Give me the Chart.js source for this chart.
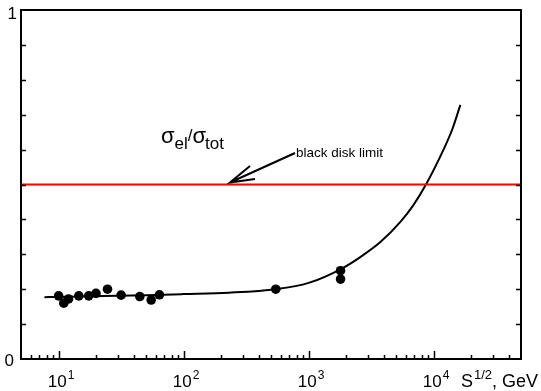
<!DOCTYPE html>
<html>
<head>
<meta charset="utf-8">
<script src="https://cdn.jsdelivr.net/npm/chart.js@4"></script>
<style>
  html, body { margin: 0; padding: 0; background: #fff; }
  canvas { display: block; }
</style>
</head>
<body>
<canvas id="ratioChart" width="541" height="391"></canvas>
<script>
// measured points: sqrt(s) in GeV and sigma_el / sigma_tot
const dataS     = [10, 11, 12, 14.5, 17.4, 19.9, 24.6, 31.6, 44.6, 55, 64, 546, 1800, 1800];
const dataRatio = [0.181, 0.160, 0.172, 0.181, 0.181, 0.188, 0.200, 0.183, 0.179, 0.169, 0.184, 0.200, 0.253, 0.229];

// model curve
const curveS     = [7.7, 10, 20, 50, 100, 230, 546, 1000, 1860, 2590, 3750, 5420, 6890, 8750, 11970, 14130, 16370];
const curveRatio = [0.177, 0.178, 0.180, 0.183, 0.186, 0.190, 0.200, 0.218, 0.260, 0.292, 0.335, 0.393, 0.441, 0.502, 0.599, 0.659, 0.728];

const blackDisk = 0.5;

const xMin = 5, xMax = 50000;
const xMajor = [10, 100, 1000, 10000];
const xMinor = [6, 7, 8, 9, 20, 30, 40, 50, 60, 70, 80, 90, 200, 300, 400, 500, 600, 700, 800, 900,
                2000, 3000, 4000, 5000, 6000, 7000, 8000, 9000, 20000, 30000, 40000];
const yTicks = [0.1, 0.2, 0.3, 0.4, 0.5, 0.6, 0.7, 0.8, 0.9];

const FONT = '"Liberation Sans", Arial, Helvetica, sans-serif';

const frameAndLabels = {
    id: 'frameAndLabels',
    afterDraw(chart) {
        const ctx = chart.ctx;
        const a = chart.chartArea;
        const xs = chart.scales.x, ys = chart.scales.y;
        ctx.save();
        ctx.strokeStyle = '#000';
        ctx.fillStyle = '#000';

        // box
        ctx.lineWidth = 2;
        ctx.strokeRect(a.left, a.top, a.right - a.left, a.bottom - a.top);

        // y ticks, left and right, inward
        ctx.lineWidth = 1.5;
        ctx.beginPath();
        yTicks.forEach(v => {
            const py = Math.round(ys.getPixelForValue(v)) + 0.5;
            ctx.moveTo(a.left, py); ctx.lineTo(a.left + 5, py);
            ctx.moveTo(a.right, py); ctx.lineTo(a.right - 5, py);
        });
        // x ticks on the bottom
        xMajor.forEach(v => {
            const px = Math.round(xs.getPixelForValue(v)) + 0.5;
            ctx.moveTo(px, a.bottom); ctx.lineTo(px, a.bottom - 8);
        });
        xMinor.forEach(v => {
            const px = Math.round(xs.getPixelForValue(v)) + 0.5;
            ctx.moveTo(px, a.bottom); ctx.lineTo(px, a.bottom - 4);
        });
        ctx.stroke();

        // y labels
        ctx.font = '17px ' + FONT;
        ctx.textBaseline = 'alphabetic';
        ctx.textAlign = 'right';
        ctx.fillText('1', 17, ys.getPixelForValue(1) + 9);
        ctx.fillText('0', 14, ys.getPixelForValue(0) + 7);

        // x labels 10^n
        xMajor.forEach((v, i) => {
            const px = xs.getPixelForValue(v);
            ctx.font = '17px ' + FONT;
            ctx.textAlign = 'left';
            const w = ctx.measureText('10').width;
            ctx.font = '12px ' + FONT;
            const w2 = ctx.measureText(String(i + 1)).width;
            const x0 = px - (w + w2) / 2 + 2;
            ctx.font = '17px ' + FONT;
            ctx.fillText('10', x0, 387);
            ctx.font = '12px ' + FONT;
            ctx.fillText(String(i + 1), x0 + w + 1, 379);
        });

        // axis title
        ctx.textAlign = 'left';
        ctx.font = '18px ' + FONT;
        ctx.fillText('S', 461, 387);
        let x = 461 + ctx.measureText('S').width + 1;
        ctx.font = '13px ' + FONT;
        ctx.fillText('1/2', x, 379);
        x += ctx.measureText('1/2').width;
        ctx.font = '18px ' + FONT;
        ctx.fillText(', GeV', x, 387);

        // sigma_el / sigma_tot
        let sx = 161;
        ctx.font = '22px ' + FONT;
        ctx.fillText('\u03C3', sx, 143);
        sx += ctx.measureText('\u03C3').width;
        ctx.font = '17px ' + FONT;
        ctx.fillText('el', sx, 149);
        sx += ctx.measureText('el').width;
        ctx.fillText('/', sx, 141);
        sx += ctx.measureText('/').width;
        ctx.font = '22px ' + FONT;
        ctx.fillText('\u03C3', sx, 143);
        sx += ctx.measureText('\u03C3').width - 1;
        ctx.font = '17px ' + FONT;
        ctx.fillText('tot', sx, 149);

        // black disk limit annotation
        ctx.font = '13.5px ' + FONT;
        ctx.fillText('black disk limit', 296, 157);
        ctx.lineWidth = 2;
        ctx.beginPath();
        ctx.moveTo(295, 153);
        ctx.lineTo(230, 182.5);
        ctx.moveTo(250, 166);
        ctx.lineTo(230, 182.5);
        ctx.lineTo(255, 179);
        ctx.stroke();

        ctx.restore();
    }
};

new Chart(document.getElementById('ratioChart'), {
    type: 'scatter',
    data: {
        datasets: [
            {
                data: [{ x: xMin, y: blackDisk }, { x: xMax, y: blackDisk }],
                showLine: true,
                borderColor: '#ff0000',
                borderWidth: 2,
                pointRadius: 0
            },
            {
                data: curveS.map((s, i) => ({ x: s, y: curveRatio[i] })),
                showLine: true,
                borderColor: '#000',
                borderWidth: 2,
                pointRadius: 0,
                cubicInterpolationMode: 'monotone'
            },
            {
                data: dataS.map((s, i) => ({ x: s, y: dataRatio[i] })),
                backgroundColor: '#000',
                borderColor: '#000',
                pointRadius: 4.8,
                borderWidth: 0
            }
        ]
    },
    options: {
        responsive: false,
        animation: false,
        events: [],
        layout: { padding: { left: 21, right: 20, top: 10, bottom: 32 } },
        plugins: {
            legend: { display: false },
            tooltip: { enabled: false }
        },
        scales: {
            x: { type: 'logarithmic', min: xMin, max: xMax, display: false },
            y: { type: 'linear', min: 0, max: 1, display: false }
        }
    },
    plugins: [frameAndLabels]
});
</script>
</body>
</html>
